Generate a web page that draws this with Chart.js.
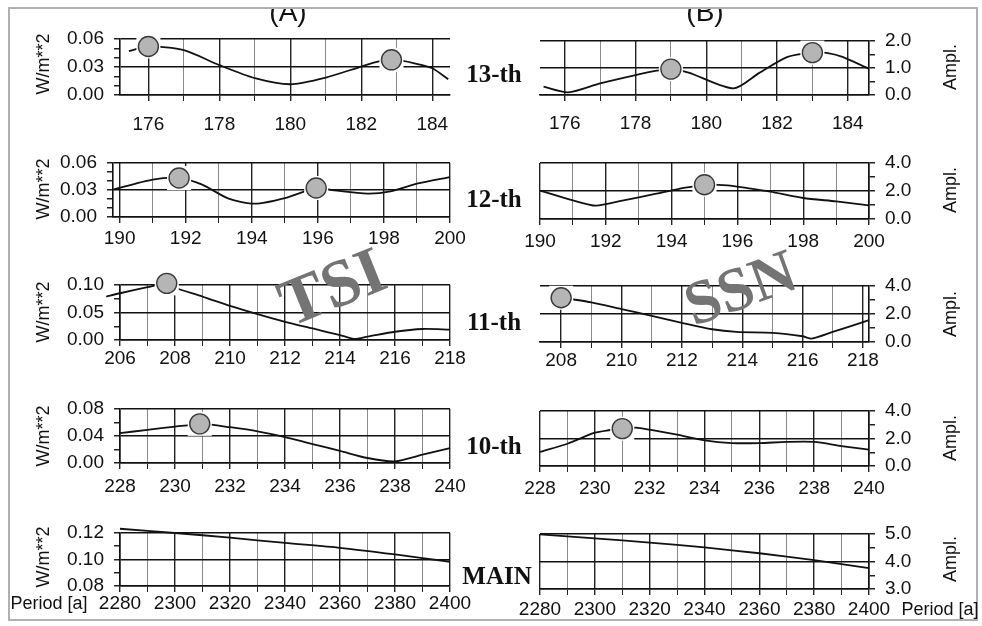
<!DOCTYPE html>
<html>
<head>
<meta charset="utf-8">
<script src="https://cdn.jsdelivr.net/npm/chart.js@4.4.1/dist/chart.umd.min.js"></script>
<style>
  body { margin: 0; width: 982px; height: 626px; overflow: hidden; background: #fff; }
  #fig { position: relative; width: 982px; height: 626px; }
  #fig canvas { position: absolute; }
  .txt { position: absolute; transform: translate(-50%, -50%); white-space: nowrap; line-height: 1; color: #111; }
  .sans { font-family: "Liberation Sans", Arial, sans-serif; font-size: 18px; }
  .row { font-family: "Liberation Serif", "Times New Roman", serif; font-weight: bold; font-size: 25px; }
  .big { font-family: "Liberation Serif", "Times New Roman", serif; font-weight: bold; color: #747474; }
  .frame { position: absolute; left: 8px; top: 7px; width: 970px; height: 614px; border: 2px solid #b0b0b0; box-sizing: border-box; }
</style>
</head>
<body>
<div id="fig"></div>
<script>
// (A) TSI, W/m**2 -- [period, value]
const tsi13 = [[175.45,0.047],[176,0.052],[177,0.048],[178,0.032],[179,0.018],[180,0.0115],[181,0.0187],[182,0.0305],[182.5,0.036],[183,0.0377],[183.5,0.034],[184,0.0287],[184.45,0.017]]
const tsi13Peaks = [[176,0.052],[182.85,0.0377]]
const tsi12 = [[189.8,0.0304],[191,0.0415],[191.8,0.0433],[192.5,0.036],[193.3,0.0204],[194.1,0.0148],[195,0.021],[195.95,0.0322],[196.5,0.0296],[197.5,0.026],[198.2,0.0285],[199,0.037],[200,0.0444]]
const tsi12Peaks = [[191.8,0.0433],[195.95,0.0322]]
const tsi11 = [[205.5,0.079],[206,0.085],[207,0.096],[207.7,0.103],[208,0.095],[209,0.079],[210,0.062],[211,0.047],[212,0.033],[213,0.021],[214,0.009],[214.5,0.002],[215,0.006],[216,0.015],[217,0.02],[218,0.019]]
const tsi11Peaks = [[207.7,0.103]]
const tsi10 = [[228,0.0444],[229,0.049],[230,0.054],[230.5,0.056],[231,0.058],[232,0.053],[233,0.047],[234,0.0385],[235,0.028],[236,0.018],[237,0.0074],[238,0.0025],[239,0.0123],[240,0.022]]
const tsi10Peaks = [[230.9,0.058]]
const tsiMain = [[2280,0.1232],[2300,0.12],[2320,0.1165],[2340,0.1125],[2360,0.1088],[2380,0.1038],[2400,0.0983]]

// (B) SSN, amplitude
const ssn13 = [[175.4,0.31],[176.1,0.1],[177,0.43],[178,0.74],[178.6,0.9],[179,0.96],[179.5,0.83],[180.77,0.245],[181.5,0.82],[182.3,1.41],[183,1.57],[183.4,1.56],[183.85,1.41],[184.58,0.98]]
const ssn13Peaks = [[179,0.96],[183,1.57]]
const ssn12 = [[190,2.02],[191,1.33],[191.7,0.95],[192.5,1.31],[193.5,1.79],[194.2,2.14],[194.7,2.33],[195,2.45],[195.7,2.4],[196.3,2.21],[197,1.95],[198,1.5],[199,1.26],[200,0.98]]
const ssn12Peaks = [[195,2.45]]
const ssn11 = [[208,3.16],[208.4,3.04],[209,2.83],[210,2.35],[211,1.87],[212,1.37],[213,0.91],[213.8,0.72],[215,0.65],[216,0.41],[216.3,0.24],[217,0.72],[218.2,1.56]]
const ssn11Peaks = [[208,3.16]]
const ssn10 = [[228,1.02],[229,1.62],[230,2.42],[230.5,2.6],[231,2.72],[231.5,2.79],[232,2.64],[233,2.28],[234,1.87],[235,1.67],[236,1.67],[237,1.75],[238,1.75],[239,1.45],[240,1.19]]
const ssn10Peaks = [[231,2.72]]
const ssnMain = [[2280,4.99],[2300,4.84],[2320,4.69],[2340,4.51],[2360,4.30],[2380,4.05],[2400,3.76]]

const rowLabels = ['13-th', '12-th', '11-th', '10-th', 'MAIN']

// panel layout: box = [left, top, right, bottom] of plot area
const panels = [
  { side: 'left', data: tsi13, peaks: tsi13Peaks, x: [175.2, 184.5, 1, 2], y: [0, 0.06, 0.01, 0.03], box: [120, 39, 450, 95], xPad: 12 },
  { side: 'left', data: tsi12, peaks: tsi12Peaks, x: [189.8, 200, 1, 2], y: [0, 0.06, 0.01, 0.03], box: [113, 163, 450, 217], xPad: 4 },
  { side: 'left', data: tsi11, peaks: tsi11Peaks, x: [206, 218, 1, 2], y: [0, 0.10, 0.025, 0.05], box: [120, 285, 450, 340], xPad: 1 },
  { side: 'left', data: tsi10, peaks: tsi10Peaks, x: [228, 240, 1, 2], y: [0, 0.08, 0.02, 0.04], box: [120, 409, 450, 463], xPad: 6 },
  { side: 'left', data: tsiMain, peaks: [], x: [2280, 2400, 10, 20], y: [0.08, 0.12, 0.01, 0.02], box: [120, 533, 450, 586], xPad: 0 },
  { side: 'right', data: ssn13, peaks: ssn13Peaks, x: [175.3, 184.6, 1, 2], y: [0, 2, 0.5, 1], box: [540, 41, 869, 95], xPad: 11 },
  { side: 'right', data: ssn12, peaks: ssn12Peaks, x: [190, 200, 1, 2], y: [0, 4, 1, 2], box: [540, 163, 869, 219], xPad: 5 },
  { side: 'right', data: ssn11, peaks: ssn11Peaks, x: [207.3, 218.2, 1, 2], y: [0, 4, 1, 2], box: [540, 286, 869, 342], xPad: 1 },
  { side: 'right', data: ssn10, peaks: ssn10Peaks, x: [228, 240, 1, 2], y: [0, 4, 1, 2], box: [540, 411, 869, 466], xPad: 5 },
  { side: 'right', data: ssnMain, peaks: [], x: [2280, 2400, 10, 20], y: [3, 5, 0.5, 1], box: [540, 534, 869, 589], xPad: 3 }
]

const fig = document.getElementById('fig')
const sans = 'Liberation Sans, Arial, sans-serif'

function steps(min, max, step) {
  const out = []
  const first = Math.ceil(min / step - 1e-9)
  const last = Math.floor(max / step + 1e-9)
  for (let i = first; i <= last; i++) out.push(+(i * step).toFixed(6))
  return out
}
const isMajor = (v, s) => Math.abs(v / s - Math.round(v / s)) < 1e-6
const pts = arr => arr.map(([x, y]) => ({ x, y }))

function addText(str, cls, x, y, extra) {
  const d = document.createElement('div')
  d.className = 'txt ' + cls
  d.textContent = str
  d.style.left = x + 'px'
  d.style.top = y + 'px'
  if (extra) Object.assign(d.style, extra)
  fig.appendChild(d)
  return d
}

function makePanel(p) {
  const left = p.side === 'left'
  const [cl, ct, cr, cb] = p.box
  const cvLeft = left ? 0 : 470
  const cvWidth = left ? 480 : 512
  const cvTop = ct - 22
  const cvHeight = (cb - ct) + 22 + 40
  const [xMin, xMax, xStep, xLab] = p.x
  const [yMin, yMax, yStep, yLab] = p.y

  const cv = document.createElement('canvas')
  cv.width = cvWidth
  cv.height = cvHeight
  cv.style.left = cvLeft + 'px'
  cv.style.top = cvTop + 'px'
  fig.appendChild(cv)

  new Chart(cv, {
    type: 'line',
    data: {
      datasets: [
        { data: pts(p.peaks), showLine: false, pointRadius: 10, pointBackgroundColor: '#b5b5b5',
          pointBorderColor: '#3a3a3a', pointBorderWidth: 1.4, clip: false, order: 0 },
        { data: pts(p.peaks), showLine: false, pointStyle: 'rect', pointRadius: 17, pointBackgroundColor: '#fff',
          pointBorderWidth: 0, clip: false, order: 1 },
        { data: pts(p.data), borderColor: '#111', borderWidth: 1.8, pointRadius: 0, tension: 0.25,
          fill: false, clip: false, order: 2 }
      ]
    },
    options: {
      responsive: false,
      animation: false,
      events: [],
      layout: { padding: { top: ct - cvTop, bottom: 0, left: left ? 0 : cl - cvLeft, right: left ? cvLeft + cvWidth - cr : 0 } },
      plugins: { legend: { display: false }, tooltip: { enabled: false } },
      scales: {
        x: {
          type: 'linear', position: 'bottom', min: xMin, max: xMax, bounds: 'data',
          afterBuildTicks: s => { s.ticks = steps(xMin, xMax, xStep).map(v => ({ value: v })) },
          afterFit: s => { s.height = cvTop + cvHeight - cb },
          ticks: {
            autoSkip: false, maxRotation: 0, padding: p.xPad, color: '#111',
            font: { family: sans, size: 19 },
            callback: v => isMajor(v, xLab) ? String(Math.round(v)) : ''
          },
          grid: {
            color: c => (c.tick && !isMajor(c.tick.value, xLab)) ? '#8a8a8a' : '#222',
            lineWidth: c => (c.tick && !isMajor(c.tick.value, xLab)) ? 1 : 1.4,
            tickColor: '#222', tickLength: 6
          },
          border: { display: true, color: '#111', width: 1.6 }
        },
        y: {
          type: 'linear', position: left ? 'left' : 'right', min: yMin, max: yMax, bounds: 'data',
          afterBuildTicks: s => { s.ticks = steps(yMin, yMax, yStep).map(v => ({ value: v })) },
          afterFit: s => { s.width = left ? cl - cvLeft : cvLeft + cvWidth - cr },
          ticks: {
            autoSkip: false, padding: 10, color: '#111',
            font: { family: sans, size: 19 },
            callback: v => isMajor(v, yLab) ? v.toFixed(left ? 2 : 1) : ''
          },
          grid: {
            color: c => (c.tick && !isMajor(c.tick.value, yLab)) ? 'rgba(0,0,0,0)' : '#111',
            lineWidth: 1.5, tickColor: '#222', tickLength: 6
          },
          border: { display: true, color: '#111', width: 1.6 }
        }
      }
    }
  })
}

panels.forEach(makePanel)

// frame and texts
const frame = document.createElement('div')
frame.className = 'frame'
fig.appendChild(frame)

const leftTitleY = [64, 189, 312, 436, 557]
const rightTitleY = [67, 190, 314, 438, 559]
const rowY = [73, 198, 321, 445, 575]
leftTitleY.forEach(y => addText('W/m**2', 'sans', 43, y, { transform: 'translate(-50%,-50%) rotate(-90deg)' }))
rightTitleY.forEach(y => addText('Ampl.', 'sans', 950, y, { transform: 'translate(-50%,-50%) rotate(-90deg)' }))
rowLabels.forEach((t, i) => addText(t, 'row', i === 4 ? 497 : 494, rowY[i]))

addText('Period [a]', 'sans', 49, 603)
addText('Period [a]', 'sans', 940, 609)

const clip = document.createElement('div')
Object.assign(clip.style, { position: 'absolute', left: '0px', top: '9px', width: '982px', height: '30px', overflow: 'hidden' })
fig.appendChild(clip)
;[['(A)', 288], ['(B)', 705]].forEach(([t, x]) => {
  const d = document.createElement('div')
  d.className = 'txt sans'
  d.textContent = t
  Object.assign(d.style, { left: x + 'px', top: '3px', fontSize: '28px' })
  clip.appendChild(d)
})

addText('TSI', 'big', 332, 286, { fontSize: '67px', transform: 'translate(-50%,-50%) rotate(-22deg)' })
addText('SSN', 'big', 740, 287, { fontSize: '62px', transform: 'translate(-50%,-50%) rotate(-20deg)' })
</script>
</body>
</html>
